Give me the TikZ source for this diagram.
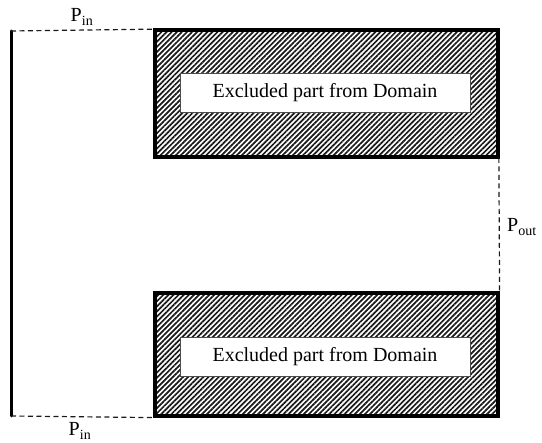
\documentclass[tikz,border=0pt]{standalone}
\usepackage{fontspec}
\setmainfont{Liberation Serif}
\usetikzlibrary{patterns.meta}
\tikzset{
  hatchbox/.style={draw=black, line width=3.2pt, inner sep=0pt,
    pattern={Lines[angle=45,distance=3.6pt,line width=1.7pt]}, pattern color=black!90},
  whitebox/.style={draw=black!70, line width=0.6pt, fill=white, inner sep=0pt,
    font=\fontsize{20}{24}\selectfont},
  wall/.style={line width=3pt, line cap=round},
  port/.style={line width=1.2pt, dash pattern=on 5pt off 3.5pt, black!90},
  plabel/.style={font=\fontsize{20}{24}\selectfont, inner sep=1pt}
}
\begin{document}
\begin{tikzpicture}[x=1pt,y=-1pt]
  \useasboundingbox (0,0) rectangle (542,443);
  % obstacles
  \node[hatchbox, minimum width=343pt, minimum height=127pt] (topblk) at (326.5,93.5) {};
  \node[hatchbox, minimum width=343pt, minimum height=123pt] (botblk) at (326.5,354.5) {};
  \node[whitebox, minimum width=290pt, minimum height=39pt] (topin) at (325,92.5) {Excluded part from Domain};
  \node[whitebox, minimum width=290pt, minimum height=39pt] (botin) at (325,356.5) {Excluded part from Domain};
  % solid wall on the left
  \coordinate (wt) at (11,31);
  \coordinate (wb) at (11,416);
  \draw[wall] (wt) -- (wb);
  % open boundaries
  \draw[port] (wt) -- (topblk.north west);
  \draw[port] (wb) -- (botblk.south west);
  \draw[port] (topblk.south east) -- (botblk.north east);
  % labels
  \node[plabel] (pin1) at (82,17) {P\textsubscript{in}};
  \node[plabel] (pin2) at (80,431) {P\textsubscript{in}};
  \node[plabel] (pout) at (522,227) {P\textsubscript{out}};
\end{tikzpicture}
\end{document}
